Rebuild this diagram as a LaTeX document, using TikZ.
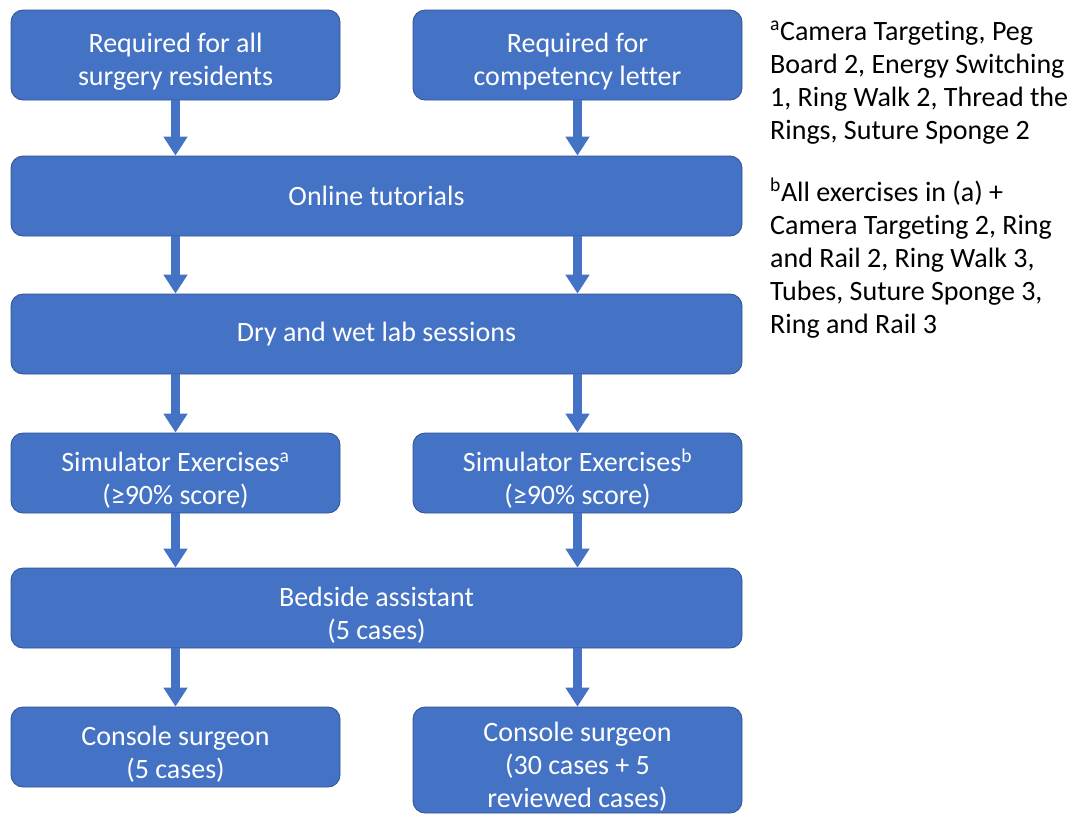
\documentclass[tikz,border=0pt]{standalone}
\usepackage{fontspec}
\setmainfont{Carlito}[Ligatures=NoCommon]
\usetikzlibrary{arrows.meta}

\definecolor{boxblue}{HTML}{4472C4}
\definecolor{boxline}{HTML}{2F528F}
\newcommand{\topgap}{\rule{0pt}{33pt}}

\begin{document}
\begin{tikzpicture}[x=1pt,y=-1pt,
    stepbox/.style={draw=boxline,line width=0.8pt,fill=boxblue,rounded corners=12pt,
      text=white,align=center,inner sep=0pt,minimum height=80pt,
      font=\fontsize{28}{33}\selectfont},
    halfbox/.style={stepbox,minimum width=329pt},
    fullbox/.style={stepbox,minimum width=731pt},
    flow/.style={draw=boxblue,line width=8.5pt,-{Triangle[length=19pt,width=23pt]}},
    note/.style={anchor=base west,align=left,inner sep=0pt,font=\fontsize{28}{33}\selectfont}]
  \useasboundingbox (0,0) rectangle (1076,815);
  % boxes
  \node[halfbox,minimum height=90pt] (allres) at (175.5,55) {\topgap Required for all\\surgery residents};
  \node[halfbox,minimum height=90pt] (letter) at (577.5,55) {\topgap Required for\\competency letter};
  \node[fullbox] (online) at (376.5,196) {Online tutorials};
  \node[fullbox] (lab) at (376.5,334) {Dry and wet lab sessions};
  \node[halfbox] (sima) at (175.5,473) {\topgap Simulator Exercises\textsuperscript{a}\\(≥90\% score)};
  \node[halfbox] (simb) at (577.5,473) {\topgap Simulator Exercises\textsuperscript{b}\\(≥90\% score)};
  \node[fullbox] (bedside) at (376.5,608) {\topgap Bedside assistant\\(5 cases)};
  \node[halfbox] (consa) at (175.5,747) {\topgap Console surgeon\\(5 cases)};
  \node[halfbox,minimum height=106pt] (consb) at (577.5,760) {\topgap Console surgeon\\(30 cases + 5\\reviewed cases)};
  % arrows
  \draw[flow] (allres.south) -- (allres.south |- online.north);
  \draw[flow] (letter.south) -- (letter.south |- online.north);
  \draw[flow] (online.south -| allres) -- (lab.north -| allres);
  \draw[flow] (online.south -| letter) -- (lab.north -| letter);
  \draw[flow] (lab.south -| sima) -- (sima.north);
  \draw[flow] (lab.south -| simb) -- (simb.north);
  \draw[flow] (sima.south) -- (sima.south |- bedside.north);
  \draw[flow] (simb.south) -- (simb.south |- bedside.north);
  \draw[flow] (bedside.south -| consa) -- (consa.north);
  \draw[flow] (bedside.south -| consb) -- (consb.north);
  % footnotes (base = last line)
  \node[note] (nota) at (770,139) {\textsuperscript{a}Camera Targeting, Peg\\Board 2, Energy Switching\\1, Ring Walk 2, Thread the\\Rings, Suture Sponge 2};
  \node[note] (notb) at (770,333) {\textsuperscript{b}All exercises in (a) +\\Camera Targeting 2, Ring\\and Rail 2, Ring Walk 3,\\Tubes, Suture Sponge 3,\\Ring and Rail 3};
\end{tikzpicture}
\end{document}
